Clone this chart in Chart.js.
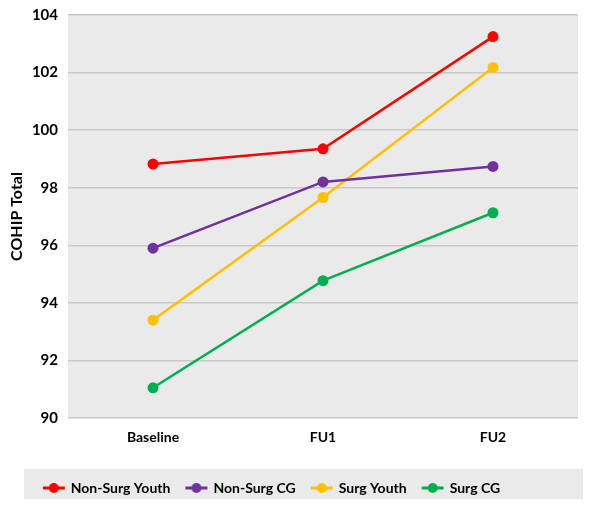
<!DOCTYPE html>
<html>
<head>
<meta charset="utf-8">
<script src="https://cdn.jsdelivr.net/npm/chart.js@4"></script>
<style>
    html, body { margin: 0; padding: 0; background: #fff; }
    #wrap { width: 600px; height: 506px; }
</style>
</head>
<body>
<div id="wrap"><canvas id="chart" width="600" height="506"></canvas></div>
<script>
// Timepoints and series
const timepoints = ['Baseline', 'FU1', 'FU2'];
const nonSurgYouth = [98.82, 99.35, 103.25];
const nonSurgCG = [95.9, 98.2, 98.74];
const surgYouth = [93.4, 97.66, 102.18];
const surgCG = [91.05, 94.77, 97.13];

const seriesNames = ['Non-Surg Youth', 'Non-Surg CG', 'Surg Youth', 'Surg CG'];
const seriesColors = ['#ff0000', '#7030a0', '#ffc000', '#00b050'];
const yTicks = [90, 92, 94, 96, 98, 100, 102, 104];

const FONT = 'Lato, "Open Sans", sans-serif';

// legend marker: short line with a dot in the middle
function makeMarker(color) {
    const c = document.createElement('canvas');
    c.width = 24;
    c.height = 12;
    const ctx = c.getContext('2d');
    ctx.strokeStyle = color;
    ctx.lineWidth = 3;
    ctx.beginPath();
    ctx.moveTo(1, 6);
    ctx.lineTo(23, 6);
    ctx.stroke();
    ctx.fillStyle = color;
    ctx.beginPath();
    ctx.arc(12, 6, 5, 0, Math.PI * 2);
    ctx.fill();
    return c;
}

// gray plot background and gray legend box; nudge legend to the left
const backgrounds = {
    id: 'backgrounds',
    afterLayout(chart) {
        chart.legend.right -= 34;
    },
    beforeDraw(chart) {
        const ctx = chart.ctx;
        const area = chart.chartArea;
        ctx.save();
        ctx.fillStyle = '#eaeaea';
        ctx.fillRect(area.left, area.top, area.right - area.left, area.bottom - area.top);
        const lg = chart.legend;
        const mid = lg.top + lg.height / 2;
        ctx.fillRect(24, mid - 16, 559, 30);
        ctx.restore();
    }
};

const allSeries = [nonSurgYouth, nonSurgCG, surgYouth, surgCG];

new Chart(document.getElementById('chart'), {
    type: 'line',
    data: {
        labels: timepoints,
        datasets: allSeries.map((values, i) => ({
            label: seriesNames[i],
            data: values,
            borderColor: seriesColors[i],
            backgroundColor: seriesColors[i],
            borderWidth: 2.5,
            pointRadius: 5.5,
            pointBorderWidth: 0,
            pointStyle: 'circle',
            tension: 0
        }))
    },
    options: {
        responsive: false,
        animation: false,
        layout: { padding: { left: 0, right: 22, top: 0, bottom: 1 } },
        plugins: {
            tooltip: { enabled: false },
            legend: {
                position: 'bottom',
                labels: {
                    usePointStyle: true,
                    pointStyleWidth: 20,
                    padding: 16,
                    color: '#000',
                    font: { family: FONT, size: 14, weight: 'bold' },
                    generateLabels(chart) {
                        return chart.data.datasets.map((ds, i) => ({
                            text: ds.label,
                            pointStyle: makeMarker(seriesColors[i]),
                            fillStyle: seriesColors[i],
                            strokeStyle: seriesColors[i],
                            lineWidth: 0,
                            fontColor: '#000',
                            datasetIndex: i
                        }));
                    }
                }
            }
        },
        scales: {
            x: {
                offset: true,
                afterFit(scale) {
                    scale.height = 47;
                },
                grid: { display: false },
                border: { display: false },
                ticks: {
                    color: '#000',
                    padding: 3,
                    font: { family: FONT, size: 14, weight: 'bold' }
                }
            },
            y: {
                min: 90,
                max: 104,
                afterBuildTicks(scale) {
                    scale.ticks = yTicks.map(v => ({ value: v }));
                },
                afterFit(scale) {
                    scale.width = 68;
                    scale.paddingTop = 15;
                },
                grid: { color: '#c8c8c8', lineWidth: 1.5, drawTicks: false },
                border: { display: false },
                ticks: {
                    color: '#000',
                    padding: 10,
                    font: { family: FONT, size: 15, weight: 'bold' }
                },
                title: {
                    display: true,
                    text: 'COHIP Total',
                    color: '#000',
                    padding: { top: 7, bottom: 0 },
                    font: { family: FONT, size: 16, weight: 'bold' }
                }
            }
        }
    },
    plugins: [backgrounds]
});
</script>
</body>
</html>
